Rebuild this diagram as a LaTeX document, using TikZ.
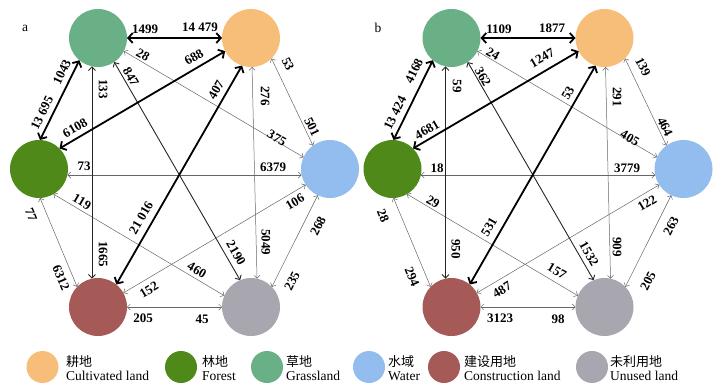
\documentclass[tikz,border=0pt]{standalone}
\usepackage{fontspec}
\setmainfont{Liberation Serif}
\newfontfamily\cjk{Noto Sans CJK SC}
\usetikzlibrary{arrows.meta}
\definecolor{cult}{RGB}{246,190,120}
\definecolor{forest}{RGB}{78,137,25}
\definecolor{grass}{RGB}{105,176,135}
\definecolor{water}{RGB}{146,189,238}
\definecolor{constr}{RGB}{166,90,87}
\definecolor{unused}{RGB}{168,166,174}
\tikzset{
 land/.style={circle,minimum size=58pt,inner sep=0pt,outer sep=0pt,draw=none},
 leg/.style={circle,minimum size=32pt,inner sep=0pt,outer sep=0pt,draw=none},
 thk/.style={line width=1.8pt,black,<->,>={Straight Barb[length=4.5pt,width=10pt]}},
 mid/.style={line width=0.9pt,black!85,<->,>={Straight Barb[length=3.5pt,width=7pt]}},
 thn/.style={line width=0.5pt,black!60,<->,>={Straight Barb[length=3pt,width=6pt]}},
 num/.style={font=\fontsize{13}{13}\selectfont\bfseries,inner sep=0pt},
 zh/.style={font=\cjk\fontsize{13}{13}\selectfont,inner sep=0pt,anchor=west},
 en/.style={font=\fontsize{13.5}{14}\selectfont,inner sep=0pt,anchor=base west},
}
\newcommand\landpanel[2]{%
 \node[land,fill=grass] (#1G) at (98+#2,38) {};
 \node[land,fill=cult] (#1C) at (251+#2,38) {};
 \node[land,fill=forest] (#1F) at (39+#2,169) {};
 \node[land,fill=water] (#1W) at (330+#2,169) {};
 \node[land,fill=constr] (#1K) at (98+#2,307) {};
 \node[land,fill=unused] (#1U) at (251+#2,307) {};
 \draw[thn] (#1G.-27) -- (#1W.156);
 \draw[thn] (#1C.272) -- (#1U.78);
 \draw[thn] (#1C.-45) -- (#1W.126);
 \draw[thn] (#1F.-12) -- (#1W.192);
 \draw[thn] (#1F.-60) -- (#1U.157);
 \draw[thn] (#1F.272) -- (#1K.136);
 \draw[thn] (#1W.213) -- (#1K.29);
 \draw[thn] (#1W.245) -- (#1U.44);
 \draw[thn] (#1K.0) -- (#1U.180);
 \draw[mid] (#1G.258) -- (#1K.102);
 \draw[mid] (#1G.-56) -- (#1U.112);
 \draw[thk] (#1G.0) -- (#1C.180);
 \draw[thk] (#1G.230) -- (#1F.88);
 \draw[thk] (#1C.207) -- (#1F.45);
 \draw[thk] (#1C.252) -- (#1K.51);
}
\begin{document}
\begin{tikzpicture}[x=1pt,y=-1pt]
\useasboundingbox (0,0) rectangle (719,391);
\landpanel{a}{0}
\landpanel{b}{353.5}
\node[font=\fontsize{13.5}{13.5}\selectfont,inner sep=0pt] (pa) at (25,28) {a};
\node[font=\fontsize{13.5}{13.5}\selectfont,inner sep=0pt] (pb) at (378,28) {b};
% panel a labels
\node[num] (a1) at (145,29) {1499};
\node[num] (a2) at (200,27) {14 479};
\node[num,rotate=64] (a3) at (62,72) {1043};
\node[num,rotate=64] (a4) at (42,113) {13 695};
\node[num,rotate=30] (a5) at (75,128) {6108};
\node[num,rotate=30] (a6) at (194,57) {688};
\node[num,rotate=60] (a7) at (216,90) {407};
\node[num,rotate=60] (a8) at (141,218) {21 016};
\node[num,rotate=-30] (a9) at (143,55) {28};
\node[num,rotate=-30] (a10) at (277,138) {375};
\node[num,rotate=-60] (a11) at (131,77) {847};
\node[num,rotate=-60] (a12) at (236,253) {2190};
\node[num,rotate=-90] (a13) at (103,89) {133};
\node[num,rotate=-90] (a14) at (103,254) {1665};
\node[num,rotate=-90] (a15) at (265,96) {276};
\node[num,rotate=-90] (a16) at (266,242) {5049};
\node[num,rotate=-64] (a17) at (288,64) {53};
\node[num,rotate=-64] (a18) at (312,127) {501};
\node[num] (a19) at (84,166) {73};
\node[num] (a20) at (273,167) {6379};
\node[num,rotate=-30] (a21) at (82,202) {119};
\node[num,rotate=-30] (a22) at (197,270) {460};
\node[num,rotate=-67] (a23) at (31,215) {77};
\node[num,rotate=-67] (a24) at (61,278) {6312};
\node[num,rotate=31] (a25) at (295,202) {106};
\node[num,rotate=31] (a26) at (149,290) {152};
\node[num,rotate=63] (a27) at (318,226) {268};
\node[num,rotate=63] (a28) at (292,281) {235};
\node[num] (a29) at (143,318) {205};
\node[num] (a30) at (202,319) {45};
% panel b labels
\node[num] (b1) at (499,29) {1109};
\node[num] (b2) at (552,28) {1877};
\node[num,rotate=64] (b3) at (414,71) {4168};
\node[num,rotate=64] (b4) at (395,113) {13 424};
\node[num,rotate=30] (b5) at (427,130) {4681};
\node[num,rotate=30] (b6) at (542,58) {1247};
\node[num,rotate=60] (b7) at (568,93) {53};
\node[num,rotate=60] (b8) at (489,227) {531};
\node[num,rotate=-30] (b9) at (493,54) {24};
\node[num,rotate=-30] (b10) at (630,138) {405};
\node[num,rotate=-60] (b11) at (483,77) {362};
\node[num,rotate=-60] (b12) at (589,254) {1532};
\node[num,rotate=-90] (b13) at (457,86) {59};
\node[num,rotate=-90] (b14) at (456,249) {950};
\node[num,rotate=-90] (b15) at (617,97) {291};
\node[num,rotate=-90] (b16) at (617,247) {909};
\node[num,rotate=-64] (b17) at (643,67) {139};
\node[num,rotate=-64] (b18) at (665,127) {464};
\node[num] (b19) at (437,168) {18};
\node[num] (b20) at (627,168) {3779};
\node[num,rotate=-30] (b21) at (433,202) {29};
\node[num,rotate=-30] (b22) at (557,271) {157};
\node[num,rotate=-67] (b23) at (383,216) {28};
\node[num,rotate=-67] (b24) at (412,277) {294};
\node[num,rotate=31] (b25) at (647,203) {122};
\node[num,rotate=31] (b26) at (502,290) {487};
\node[num,rotate=63] (b27) at (671,226) {263};
\node[num,rotate=63] (b28) at (648,281) {205};
\node[num] (b29) at (500,318) {3123};
\node[num] (b30) at (558,319) {98};
% legend
\node[leg,fill=cult] (l1) at (42.5,367) {};
\node[zh] (l1z) at (66,362) {耕地};
\node[en] (l1e) at (66,380) {Cultivated land};
\node[leg,fill=forest] (l2) at (181,367) {};
\node[zh] (l2z) at (202,362) {林地};
\node[en] (l2e) at (202,380) {Forest};
\node[leg,fill=grass] (l3) at (267,367) {};
\node[zh] (l3z) at (286,362) {草地};
\node[en] (l3e) at (286,380) {Grassland};
\node[leg,fill=water] (l4) at (369,367) {};
\node[zh] (l4z) at (388,362) {水域};
\node[en] (l4e) at (388,380) {Water};
\node[leg,fill=constr] (l5) at (444,367) {};
\node[zh] (l5z) at (464,362) {建设用地};
\node[en] (l5e) at (464,380) {Construction land};
\node[leg,fill=unused] (l6) at (592,367) {};
\node[zh] (l6z) at (610,362) {未利用地};
\node[en] (l6e) at (610,380) {Unused land};
\end{tikzpicture}
\end{document}
